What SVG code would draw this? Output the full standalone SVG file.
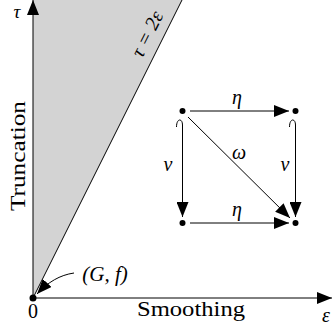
<svg xmlns="http://www.w3.org/2000/svg" width="332" height="332" viewBox="0 0 332 332">
<style>
.t{font-family:"Liberation Serif","Times New Roman",serif;fill:#000}
.m{font-family:"Liberation Serif","Times New Roman",serif;font-style:italic;fill:#000}
.ln{stroke:#000;stroke-width:1;fill:none}
</style>
<defs>
<marker id="ah" viewBox="0 0 15 12" refX="15" refY="6" markerWidth="15" markerHeight="12" markerUnits="userSpaceOnUse" orient="auto">
<path d="M0,0 L15,6 L0,12 Z" fill="#000"/>
</marker>
</defs>
<polygon points="33,298 33,0 182,0" fill="#d3d3d3"/>
<g id="connectors">
<line class="ln" x1="33" y1="298" x2="182" y2="0"/>
<line class="ln" x1="33" y1="298" x2="33" y2="0" marker-end="url(#ah)"/>
<line class="ln" x1="33" y1="298" x2="332" y2="298" marker-end="url(#ah)"/>
<path class="ln" d="M74,273 C60,275 48,282 37,294" marker-end="url(#ah)"/>
<line class="ln" x1="190" y1="111" x2="289" y2="111" marker-end="url(#ah)"/>
<line class="ln" x1="190" y1="223" x2="289" y2="223" marker-end="url(#ah)"/>
<path class="ln" d="M176.5,127 C176.5,118 182.5,118 182.5,125 L182.5,217" marker-end="url(#ah)"/>
<path class="ln" d="M289.5,127 C289.5,118 295.5,118 295.5,125 L295.5,217" marker-end="url(#ah)"/>
<line class="ln" x1="188" y1="117" x2="290" y2="218" marker-end="url(#ah)"/>
</g>
<g id="origin"><circle cx="33" cy="298" r="3.5"/></g>
<g id="n1"><circle cx="182.5" cy="111" r="3"/></g>
<g id="n2"><circle cx="295.5" cy="111" r="3"/></g>
<g id="n3"><circle cx="182.5" cy="223" r="3"/></g>
<g id="n4"><circle cx="295.5" cy="223" r="3"/></g>
<g id="labels">
<text class="m" x="17" y="18" font-size="19" text-anchor="middle">τ</text>
<text class="m" x="322" y="322" font-size="20">ε</text>
<text class="t" x="33" y="318" font-size="20" text-anchor="middle">0</text>
<text class="t" x="191" y="316" font-size="21" text-anchor="middle" textLength="108" lengthAdjust="spacingAndGlyphs">Smoothing</text>
<text class="t" transform="translate(25,156) rotate(-90)" font-size="21" text-anchor="middle" textLength="110" lengthAdjust="spacingAndGlyphs">Truncation</text>
<text class="m" x="105" y="281" font-size="21" text-anchor="middle">(G, f)</text>
<text class="m" transform="translate(153,37) rotate(-63.4)" font-size="20" text-anchor="middle">τ = 2ε</text>
<text class="m" x="237" y="104" font-size="20" text-anchor="middle">η</text>
<text class="m" x="237" y="216" font-size="20" text-anchor="middle">η</text>
<text class="m" x="168" y="171" font-size="20" text-anchor="middle">ν</text>
<text class="m" x="285" y="171" font-size="20" text-anchor="middle">ν</text>
<text class="m" x="239" y="159" font-size="20" text-anchor="middle">ω</text>
</g>
</svg>
